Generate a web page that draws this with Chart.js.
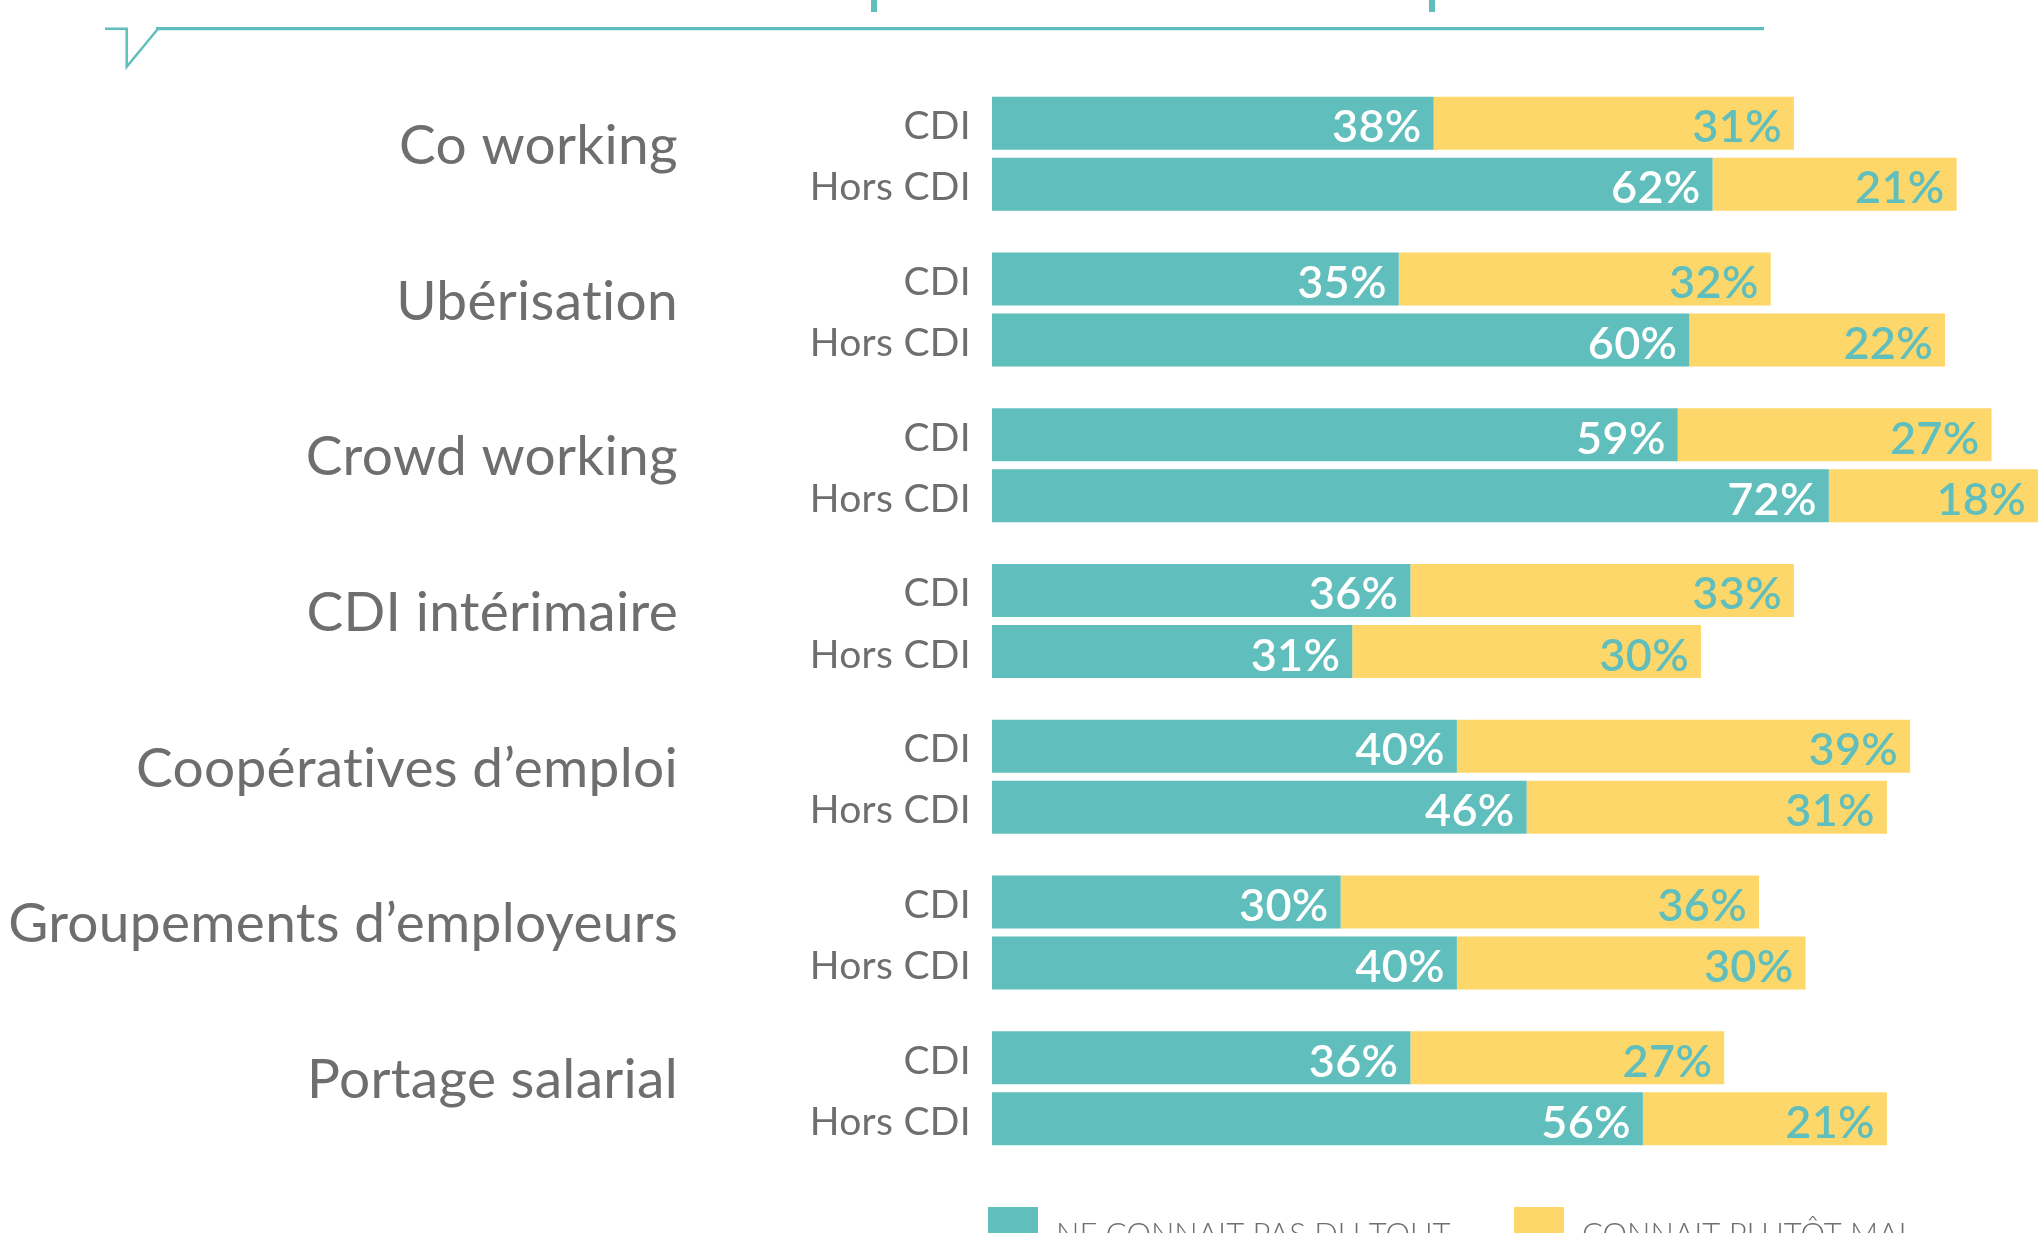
<!DOCTYPE html>
<html>
<head>
<meta charset="utf-8">
<script src="https://cdn.jsdelivr.net/npm/chart.js@4.4.0/dist/chart.umd.min.js"></script>
<style>
html,body{margin:0;padding:0;background:#fff;overflow:hidden}
#wrap{width:2041px;height:1233px;position:relative}
</style>
</head>
<body>
<div id="wrap"><canvas id="c" width="2041" height="1233"></canvas></div>
<script>
// ---- data ----
const groups = ['Co working', 'Ubérisation', 'Crowd working', 'CDI intérimaire', 'Coopératives d’emploi', 'Groupements d’employeurs', 'Portage salarial'];
const subLabels = ['CDI', 'Hors CDI'];
const seriesNames = ['NE CONNAIT PAS DU TOUT', 'CONNAIT PLUTÔT MAL'];
const cdiNotKnown = [38, 35, 59, 36, 40, 30, 36];
const cdiKnowPoorly = [31, 32, 27, 33, 39, 36, 27];
const horsNotKnown = [62, 60, 72, 31, 46, 40, 56];
const horsKnowPoorly = [21, 22, 18, 30, 31, 30, 21];

// ---- style ----
const TEAL = '#60bfbc';
const YELLOW = '#fed76a';
const GRAY = '#6e6e6e';
const FONT = 'Lato, "Open Sans", sans-serif';

const decoPlugin = {
  id: 'deco',
  beforeDraw(chart) {
    const ctx = chart.ctx;
    ctx.save();
    ctx.strokeStyle = TEAL;
    ctx.lineJoin = 'miter';
    ctx.lineWidth = 2.5;
    ctx.beginPath();
    ctx.moveTo(105, 28.7);
    ctx.lineTo(126.7, 28.7);
    ctx.lineTo(126.7, 66.7);
    ctx.lineTo(158, 28.7);
    ctx.stroke();
    ctx.lineWidth = 3.2;
    ctx.beginPath();
    ctx.moveTo(156, 28.7);
    ctx.lineTo(1764, 28.7);
    ctx.stroke();
    ctx.fillStyle = TEAL;
    ctx.fillRect(871, 0, 6, 12);
    ctx.fillRect(1429, 0, 6, 12);
    ctx.restore();
  }
};

const labelsPlugin = {
  id: 'barLabels',
  afterDatasetsDraw(chart) {
    const ctx = chart.ctx;
    const yScale = chart.scales.y;
    const left = chart.chartArea.left;
    ctx.save();
    try { ctx.letterSpacing = '0.3px'; } catch (e) {}
    ctx.textAlign = 'right';
    ctx.textBaseline = 'alphabetic';
    // group labels (category axis)
    ctx.font = '400 55px ' + FONT;
    ctx.fillStyle = GRAY;
    groups.forEach((g, i) => {
      ctx.fillText(g, left - 314, yScale.getPixelForValue(i) + 10);
    });
    // value labels
    ctx.font = '600 45px ' + FONT;
    chart.data.datasets.forEach((ds, i) => {
      const meta = chart.getDatasetMeta(i);
      ctx.fillStyle = ds.labelColor;
      meta.data.forEach((bar, j) => {
        ctx.fillText(ds.data[j] + '%', bar.x - 12, bar.y + 19);
      });
    });
    // sub labels (CDI / Hors CDI)
    ctx.font = '400 39px ' + FONT;
    ctx.fillStyle = GRAY;
    [0, 2].forEach((di, k) => {
      const meta = chart.getDatasetMeta(di);
      meta.data.forEach((bar) => {
        ctx.fillText(subLabels[k], left - 21, bar.y + 16);
      });
    });
    ctx.restore();
  },
  afterDraw(chart) {
    // legend (cut by the bottom edge, as in the reference)
    const ctx = chart.ctx;
    ctx.save();
    const items = [
      {x: 988, tx: 1056, color: TEAL, text: seriesNames[0]},
      {x: 1514, tx: 1582, color: YELLOW, text: seriesNames[1]}
    ];
    ctx.font = '300 31px ' + FONT;
    ctx.textAlign = 'left';
    ctx.textBaseline = 'alphabetic';
    items.forEach(it => {
      ctx.fillStyle = it.color;
      ctx.fillRect(it.x, 1207, 50, 50);
      ctx.fillStyle = GRAY;
      ctx.fillText(it.text, it.tx, 1245);
    });
    ctx.restore();
  }
};

function draw() {
  new Chart(document.getElementById('c'), {
    type: 'bar',
    data: {
      labels: groups,
      datasets: [
        {label: seriesNames[0], data: cdiNotKnown, stack: 'CDI', backgroundColor: TEAL, labelColor: '#ffffff'},
        {label: seriesNames[1], data: cdiKnowPoorly, stack: 'CDI', backgroundColor: YELLOW, labelColor: TEAL},
        {label: seriesNames[0], data: horsNotKnown, stack: 'Hors', backgroundColor: TEAL, labelColor: '#ffffff'},
        {label: seriesNames[1], data: horsKnowPoorly, stack: 'Hors', backgroundColor: YELLOW, labelColor: TEAL}
      ]
    },
    options: {
      indexAxis: 'y',
      responsive: false,
      animation: false,
      devicePixelRatio: 1,
      categoryPercentage: 0.7836,
      barPercentage: 0.869,
      layout: {padding: {top: 76, bottom: 67, right: 3, left: 0}},
      plugins: {legend: {display: false}, tooltip: {enabled: false}},
      scales: {
        x: {stacked: true, min: 0, max: 90, display: false},
        y: {
          stacked: true,
          grid: {display: false, drawTicks: false},
          border: {display: false},
          ticks: {display: false, padding: 0},
          afterFit(axis) {
            axis.width = 992;
            axis.paddingTop = 0;
            axis.paddingBottom = 0;
          }
        }
      }
    },
    plugins: [decoPlugin, labelsPlugin]
  });
}

if (document.fonts && document.fonts.load) {
  Promise.all([
    document.fonts.load('400 55px Lato'),
    document.fonts.load('600 45px Lato'),
    document.fonts.load('300 31px Lato')
  ]).then(draw, draw);
} else {
  draw();
}
</script>
</body>
</html>
